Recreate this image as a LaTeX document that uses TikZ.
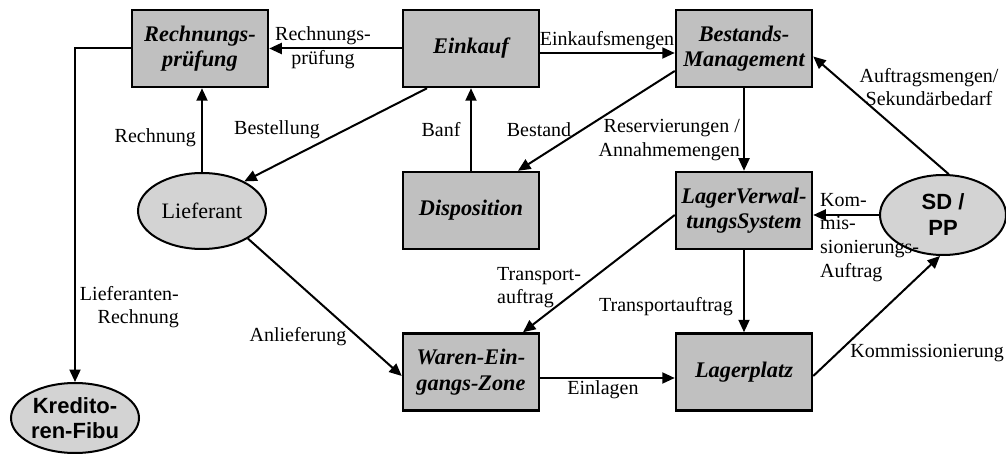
\documentclass[tikz,border=0pt]{standalone}
\usepackage{fontspec}
\setmainfont{Liberation Serif}
\newfontfamily\arialfont{Liberation Sans}
\usetikzlibrary{arrows.meta,shapes.geometric}
\definecolor{boxgray}{RGB}{192,192,192}
\definecolor{ellgray}{RGB}{211,211,211}
\begin{document}
\begin{tikzpicture}[x=1pt,y=-1pt,
  proc/.style={draw,line width=2.5pt,fill=boxgray,minimum width=136pt,minimum height=77pt,
    inner sep=0pt,align=center,font=\fontsize{22.3}{25.5}\selectfont\bfseries\itshape},
  actor/.style={draw,line width=2pt,fill=ellgray,ellipse,inner sep=0pt,align=center},
  flow/.style={line width=2pt,-{Triangle[length=12.5pt,width=11pt]}},
  lbl/.style={inner sep=0pt,align=center,font=\fontsize{20}{23.7}\selectfont}]
\useasboundingbox (0,0) rectangle (1006,454);

% process boxes
\node[proc] (rp)  at (200,48.5)  {Rechnungs-\\prüfung};
\node[proc] (ein) at (471,48.5)  {Einkauf};
\node[proc] (bm)  at (744,48.5)  {Bestands-\\Management};
\node[proc] (dis) at (471,210.5) {Disposition};
\node[proc] (lvs) at (744,210.5) {LagerVerwal-\\tungsSystem};
\node[proc] (wez) at (471,372)   {Waren-Ein-\\gangs-Zone};
\node[proc] (lp)  at (744,372)   {Lagerplatz};

% external partners
\node[actor,minimum width=128pt,minimum height=76pt,font=\fontsize{22}{25}\selectfont]
  (lief) at (202,211) {Lieferant};
\node[actor,minimum width=126pt,minimum height=80pt,font=\fontsize{22}{26}\selectfont\arialfont\bfseries]
  (sd) at (943,215) {SD /\\PP};
\node[actor,minimum width=128pt,minimum height=70pt,font=\fontsize{22}{25}\selectfont\arialfont\bfseries]
  (kf) at (75,418) {Kredito-\\ren-Fibu};

% flows
\draw[flow] (ein.west) -- (ein.west -| rp.east);
\draw[flow] (rp.west) -| (kf.north);
\draw[flow] (lief.north) -- (lief.north |- rp.south);
\draw[flow] ([xshift=-44pt]ein.south) -- (lief.35);
\draw[flow] (dis.north) -- (ein.south);
\draw[flow] ([yshift=-22.5pt]bm.west) -- ([xshift=47pt]dis.north);
\draw[flow] ([yshift=-4.5pt]ein.east) -- ([yshift=-4.5pt]bm.west);
\draw[flow] (bm.south) -- (lvs.north);
\draw[flow] (sd.82) -- ([yshift=-8pt]bm.east);
\draw[flow] (sd.west) -- (sd.west -| lvs.east);
\draw[flow] ([yshift=-4.5pt]lvs.west) -- ([xshift=52pt]wez.north);
\draw[flow] (lvs.south) -- (lp.north);
\draw[flow] (lief.-31) -- ([yshift=-4pt]wez.west);
\draw[flow] ([yshift=-6pt]wez.east) -- ([yshift=-6pt]lp.west);
\draw[flow] ([yshift=-4pt]lp.east) -- ([xshift=-3pt]sd.south);

% flow labels
\node[lbl] (l1) at (323,48) {Rechnungs-\\prüfung};
\node[lbl,anchor=east,align=right] (l2) at (179,307) {Lieferanten-\\Rechnung};
\node[lbl,anchor=east] (l3) at (196,138) {Rechnung};
\node[lbl] (l4) at (277,130) {Bestellung};
\node[lbl] (l5) at (441,130) {Banf};
\node[lbl] (l6) at (539,130) {Bestand};
\node[lbl] (l7) at (607,41) {Einkaufsmengen};
\node[lbl,anchor=east,align=right] (l8) at (740,140) {Reservierungen /\\Annahmemengen};
\node[lbl] (l9) at (929,87) {Auftragsmengen/\\Sekundärbedarf};
\node[lbl,anchor=north west,align=left] (l10) at (820,193) {Kom-\\mis-\\sionierungs-\\Auftrag};
\node[lbl,anchor=north west,align=left] (l11) at (497,267) {Transport-\\auftrag};
\node[lbl] (l12) at (666,307) {Transportauftrag};
\node[lbl] (l13) at (298,337) {Anlieferung};
\node[lbl] (l14) at (603,390) {Einlagen};
\node[lbl,anchor=east] (l15) at (1004,353) {Kommissionierung};
\end{tikzpicture}
\end{document}
